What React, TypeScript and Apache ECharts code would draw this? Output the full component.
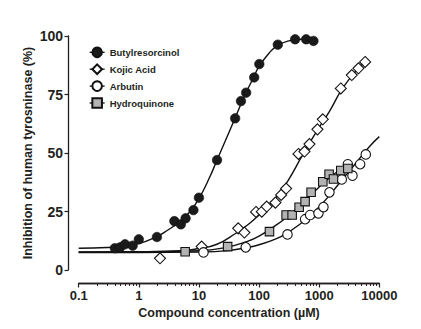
import React, { useEffect, useRef } from 'react';
import * as echarts from 'echarts';

// ---- data ----
const seriesNames = ['Butylresorcinol', 'Kojic Acid', 'Arbutin', 'Hydroquinone'];
const xTickLabels = ['0.1', '1', '10', '100', '1000', '10000'];
const yTickValues = [0, 25, 50, 75, 100];
const xMinorTicks = [
  0.2, 0.3, 0.4, 0.5, 0.6, 0.7, 0.8, 0.9,
  2, 3, 4, 5, 6, 7, 8, 9,
  20, 30, 40, 50, 60, 70, 80, 90,
  200, 300, 400, 500, 600, 700, 800, 900,
  2000, 3000, 4000, 5000, 6000, 7000, 8000, 9000,
];

// measured points
const butylX = [0.4, 0.49, 0.59, 0.79, 1.0, 2.0, 3.9, 5.0, 6.0, 8.1, 10, 20, 40, 50, 61, 83, 101, 205, 398, 607, 803];
const butylY = [9.3, 9.7, 11.0, 10.4, 13.1, 14.1, 20.9, 19.5, 22.1, 25.6, 30.9, 47.0, 64.8, 72.2, 75.8, 82.3, 88.0, 96.3, 98.6, 98.6, 97.9];

const kojicX = [2.25, 11.1, 45, 57, 89, 111, 134, 187, 233, 282, 452, 569, 689, 936, 1148, 2287, 3485, 4498, 5808];
const kojicY = [5.0, 10.0, 17.8, 16.0, 24.8, 24.9, 27.1, 28.8, 32.1, 34.8, 49.6, 50.6, 53.8, 60.1, 64.4, 77.6, 83.3, 86.2, 88.9];

const arbutinX = [11.9, 60, 297, 583, 707, 972, 1178, 1482, 2378, 2993, 3580, 4800, 5960];
const arbutinY = [7.5, 9.7, 15.2, 21.7, 23.5, 24.2, 26.9, 33.2, 38.7, 45.2, 40.3, 45.2, 49.4];

const hydroX = [5.9, 30, 149, 282, 355, 464, 583, 734, 1148, 1463, 1727, 2287, 2993];
const hydroY = [7.8, 10.0, 16.4, 23.5, 23.5, 26.8, 29.2, 33.2, 37.7, 40.9, 38.9, 42.5, 43.4];

// fitted curves
const butylFitX = [0.1, 0.3, 0.5, 1, 2, 3, 5, 7, 10, 15, 20, 30, 40, 60, 80, 100, 150, 200, 300, 500, 800];
const butylFitY = [9.3, 9.6, 10.1, 11.3, 14.3, 17, 21, 24.8, 30.5, 39.5, 47, 57.5, 65, 75.5, 82, 87, 93, 95.8, 97.8, 98.6, 98.9];

const kojicFitX = [0.1, 1, 5, 10, 20, 40, 70, 100, 150, 200, 300, 500, 700, 1000, 1500, 2300, 3500, 5000, 6600];
const kojicFitY = [7.7, 7.8, 8.2, 9.2, 11, 15.5, 20, 23.5, 28, 31.5, 38, 48, 54.5, 61, 68, 76.5, 83, 87.5, 90];

const arbutinFitX = [0.1, 1, 10, 30, 60, 100, 200, 300, 500, 700, 1000, 1500, 2000, 3000, 5000, 7000, 10000];
const arbutinFitY = [7.5, 7.5, 7.7, 8.3, 9.5, 10.8, 13.5, 16, 20, 23, 27, 32, 36, 41.5, 48.5, 53, 57];

const hydroFitX = [0.1, 1, 10, 30, 60, 100, 200, 300, 500, 700, 1000, 1500, 2000, 3000];
const hydroFitY = [7.6, 7.6, 8.2, 9.8, 12, 14.5, 19.5, 23, 28, 31.5, 35.5, 39.5, 42, 44.5];

const FONT = "'Liberation Sans', Arial, sans-serif";
const INK = '#231f20';

const pairs = (xs: number[], ys: number[]) => xs.map((x, i) => [x, ys[i]]);

export default function App() {
  const ref = useRef<HTMLDivElement>(null);

  useEffect(() => {
    if (!ref.current) return;
    const chart = echarts.init(ref.current, undefined, { renderer: 'svg' });

    const fit = (name: string, xs: number[], ys: number[]) => ({
      name,
      type: 'line',
      data: pairs(xs, ys),
      smooth: true,
      symbol: 'none',
      showSymbol: false,
      silent: true,
      lineStyle: { color: '#111', width: 1.4 },
      z: 2,
    });

    const pts = (name: string, xs: number[], ys: number[], symbol: string, size: number, fill: string, bw: number) => ({
      name,
      type: 'line',
      data: pairs(xs, ys),
      symbol,
      symbolSize: size,
      showSymbol: true,
      showAllSymbol: true,
      lineStyle: { opacity: 0, width: 0 },
      itemStyle: { color: fill, borderColor: '#111', borderWidth: bw, opacity: 1 },
      z: 3,
    });

    const log10Min = Math.log10(0.1);
    const log10Max = Math.log10(10000);

    const option: any = {
      animation: false,
      backgroundColor: '#fff',
      grid: {
        left: 78.7,
        right: 41.7,
        top: 36,
        bottom: 59,
        containLabel: false,
        outerBoundsMode: 'none',
      },
      legend: {
        data: seriesNames,
        orient: 'vertical',
        left: 84,
        top: 41.5,
        itemWidth: 15,
        itemHeight: 12,
        itemGap: 5.3,
        textStyle: { fontFamily: FONT, fontWeight: 'bold', fontSize: 9.5, color: INK },
        lineStyle: { color: '#111', width: 1.3, opacity: 1 },
        selectedMode: false,
      },
      xAxis: [
        {
          type: 'log',
          logBase: 10,
          min: 0.1,
          max: 10000,
          position: 'bottom',
          offset: 13,
          name: 'Compound concentration (µM)',
          nameLocation: 'middle',
          nameGap: 23,
          nameMoveOverlap: false,
          nameTextStyle: { fontFamily: FONT, fontWeight: 'bold', fontSize: 12.5, color: INK },
          axisLine: { show: true, onZero: false, lineStyle: { color: INK, width: 1.3 } },
          axisTick: { show: true, length: 4.5, lineStyle: { color: INK, width: 1.2 } },
          axisLabel: {
            margin: 6,
            fontFamily: FONT,
            fontWeight: 'bold',
            fontSize: 13,
            color: INK,
            formatter: (v: number) => xTickLabels[Math.round(Math.log10(v)) + 1] ?? '',
          },
          splitLine: { show: false },
        },
        {
          // minor ticks of the log axis, placed on a linear axis in log10 units
          type: 'value',
          min: log10Min,
          max: log10Max,
          position: 'bottom',
          offset: 13,
          axisLine: { show: true, onZero: false, lineStyle: { color: INK, width: 1.3 } },
          axisTick: {
            show: true,
            length: 3,
            customValues: xMinorTicks.map((v) => Math.log10(v)),
            lineStyle: { color: INK, width: 1 },
          },
          axisLabel: { show: false },
          splitLine: { show: false },
        },
      ],
      yAxis: {
        type: 'value',
        min: yTickValues[0],
        max: yTickValues[yTickValues.length - 1],
        interval: 25,
        offset: 10.7,
        name: 'Inhibition of human tyrosninase (%)',
        nameLocation: 'middle',
        nameGap: 34,
        nameMoveOverlap: false,
        nameTextStyle: { fontFamily: FONT, fontWeight: 'bold', fontSize: 12.5, color: INK },
        axisLine: { show: true, onZero: false, lineStyle: { color: INK, width: 1.3 } },
        axisTick: { show: true, length: 3.5, lineStyle: { color: INK, width: 1.2 } },
        axisLabel: { margin: 5, fontFamily: FONT, fontWeight: 'bold', fontSize: 14, color: INK },
        splitLine: { show: false },
      },
      series: [
        fit('Butylresorcinol fit', butylFitX, butylFitY),
        fit('Kojic Acid fit', kojicFitX, kojicFitY),
        fit('Arbutin fit', arbutinFitX, arbutinFitY),
        fit('Hydroquinone fit', hydroFitX, hydroFitY),
        pts('Butylresorcinol', butylX, butylY, 'circle', 9.5, '#1a1a1a', 0.6),
        pts('Kojic Acid', kojicX, kojicY, 'diamond', 11, '#ffffff', 1.1),
        pts('Arbutin', arbutinX, arbutinY, 'circle', 9.5, '#ffffff', 1.1),
        pts('Hydroquinone', hydroX, hydroY, 'rect', 8.5, '#b3b3b3', 1.1),
      ],
    };

    chart.setOption(option);
    return () => chart.dispose();
  }, []);

  return <div ref={ref} style={{ width: 421, height: 329, position: 'absolute', left: 0, top: 0 }} />;
}
